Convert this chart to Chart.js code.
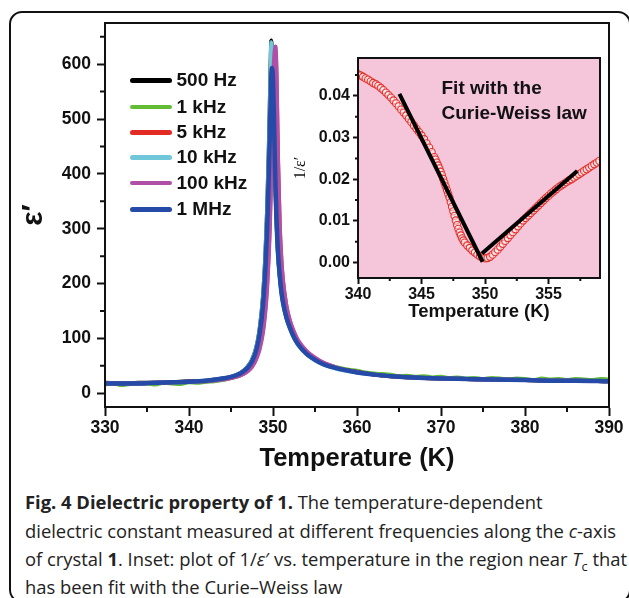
<!DOCTYPE html>
<html><head><meta charset="utf-8">
<script src="https://cdn.jsdelivr.net/npm/chart.js@4.4.1/dist/chart.umd.min.js"></script>
<style>
html,body{margin:0;padding:0;background:#fff;}
body{width:629px;height:598px;position:relative;overflow:hidden;font-family:'Liberation Sans',Arial,sans-serif;color:#111;}
#frame{position:absolute;left:9px;top:11px;width:622px;height:592px;border:2.5px solid #111;border-radius:13px;box-sizing:border-box;}
#main{position:absolute;left:0;top:0;}
#inset{position:absolute;left:290px;top:40px;}
.leg{position:absolute;left:130px;height:24px;width:140px;}
.leg .ln{position:absolute;left:0;top:10px;width:42px;height:4.5px;border-radius:3px;}
.leg .tx{position:absolute;left:46.5px;top:0;line-height:24px;font-size:19px;font-weight:bold;white-space:nowrap;}
.note{position:absolute;left:441.5px;line-height:24px;font-size:19px;font-weight:bold;white-space:nowrap;}
.cap{position:absolute;left:25px;line-height:28px;white-space:nowrap;font-family:'Open Sans',sans-serif;color:#222;}
</style></head>
<body>
<div id="frame"></div>
<canvas id="main" width="629" height="480"></canvas>
<canvas id="inset" width="320" height="290"></canvas>
<div id="legend"></div>
<div class="note" style="top:76.3px">Fit with the</div>
<div class="note" style="top:100.7px">Curie-Weiss law</div>
<div class="cap" style="top:488px"><b>Fig. 4 Dielectric property of 1.</b> The temperature-dependent</div>
<div class="cap" style="top:516.5px">dielectric constant measured at different frequencies along the <i>c</i>-axis</div>
<div class="cap" style="top:545px">of crystal <b>1</b>. Inset: plot of 1/<i>ε</i>′ vs. temperature in the region near <i>T</i><sub style="font-size:0.7em;line-height:0">c</sub> that</div>
<div class="cap" style="top:573px">has been fit with the Curie–Weiss law</div>
<script>
// ---------------- main chart data ----------------
const temperature = [330,332,334,336,338,340,342,344,345,346,346.5,347,347.5,348,348.4,348.8,349.1,349.3,349.5,349.6,349.7,349.8,349.9,350.0,350.1,350.2,350.3,350.4,350.5,350.6,350.8,351.0,351.2,351.6,352,352.5,353,354,355,356,357,358,360,362,365,368,370,373,376,380,383,386,390];
const eps500Hz = [19,18,19,19,20,22,23,27,30,36,41,49,61,83,116,175,255,335,445,512,588,643,612,562,497,432,370,322,284,254,215,186,166,138,120,102,89,72,61,53,48,44,39,34,30,28,27,26,25,24,23,23,22];
const eps5kHz = [18,18,18,19,20,21,22,25,28,32,36,41,49,64,83,115,158,200,262,305,360,425,500,565,610,625,622,585,505,420,305,242,203,158,132,111,95,76,64,55,49,45,39,34,30,28,27,26,25,24,23,23,22];
const eps10kHz = [18,18,18,19,20,21,23,27,30,36,41,49,61,83,116,175,255,335,445,510,585,640,610,560,495,430,368,320,282,252,213,184,164,137,119,101,88,71,60,52,47,43,38,34,30,28,27,26,25,24,23,23,22];
const eps100kHz = [18,18,18,19,20,21,22,25,28,32,35,40,48,62,80,110,150,190,250,290,340,400,470,540,600,625,632,600,520,430,310,245,205,160,133,112,96,77,65,56,50,45,39,34,30,28,27,26,25,24,23,23,22];
const eps1MHz = [18,18,18,19,20,21,23,27,30,35,40,47,58,78,108,160,230,300,400,460,525,580,593,570,510,440,375,325,285,255,215,185,165,138,120,102,89,72,61,53,48,44,38,34,30,28,27,26,25,24,23,23,22];
const temperature1kHz = [330,331,332,333,334,335,336,337,338,339,340,341,342,343,344,345,346,346.5,347,347.5,348,348.4,348.8,349.1,349.3,349.5,349.6,349.7,349.8,349.9,350.0,350.1,350.2,350.3,350.4,350.5,350.6,350.8,351.0,351.2,351.6,352,352.5,353,354,355,356,357,358,359,360,361,362,363,364,365,366,367,368,369,370,371,372,373,374,375,376,377,378,379,380,381,382,383,384,385,386,387,388,389,390];
const eps1kHz = [16,18,15,17,17,18,16,19,18,17,20,19,21,22,24,28,32,36,44,56,76,106,158,230,305,410,480,560,630,615,570,505,440,378,328,288,258,218,188,168,140,122,104,91,74,63,55,50,46,43,41,38,36,35,34,31,32,30,31,29,30,28,29,27,28,26,28,27,25,27,26,24,27,25,26,24,26,25,24,26,25];
const seriesLabels = ['500 Hz','1 kHz','5 kHz','10 kHz','100 kHz','1 MHz'];
const seriesColors = ['#000000','#62bd35','#e32b26','#6fc7d9','#b04fa6','#264aa8'];
const mainXTicks = [330,340,350,360,370,380,390];
const mainXMinor = [335,345,355,365,375,385];
const mainYTicks = [0,100,200,300,400,500,600];
const mainYMinor = [50,150,250,350,450,550,650];

// ---------------- inset data ----------------
const insetT = [340.0,340.2,340.4,340.6,340.8,341.0,341.2,341.4,341.6,341.8,342.0,342.2,342.4,342.6,342.8,343.0,343.2,343.4,343.6,343.8,344.0,344.2,344.4,344.6,344.8,345.0,345.2,345.4,345.6,345.8,346.0,346.1,346.2,346.3,346.4,346.5,346.6,346.7,346.8,346.9,347.0,347.1,347.2,347.3,347.4,347.5,347.6,347.7,347.8,347.9,348.0,348.1,348.2,348.3,348.4,348.6,348.8,349.0,349.2,349.4,349.6,349.8,350.0,350.2,350.4,350.6,350.8,351.0,351.2,351.4,351.6,351.8,352.0,352.2,352.4,352.6,352.8,353.0,353.2,353.4,353.6,353.8,354.0,354.2,354.4,354.6,354.8,355.0,355.2,355.4,355.6,355.8,356.0,356.2,356.4,356.6,356.8,357.0,357.2,357.4,357.6,357.8,358.0,358.2,358.4,358.6,358.8,359.0];
const insetInvEps = [0.0452,0.0449,0.0446,0.0442,0.0439,0.0435,0.0431,0.0428,0.0424,0.0419,0.0414,0.0408,0.0402,0.0396,0.0389,0.0382,0.0375,0.0367,0.0360,0.0353,0.0345,0.0337,0.0329,0.0321,0.0313,0.0305,0.0296,0.0286,0.0276,0.0265,0.0253,0.0247,0.0240,0.0233,0.0226,0.0218,0.0210,0.0201,0.0192,0.0183,0.0174,0.0165,0.0156,0.0145,0.0134,0.0123,0.0112,0.0101,0.0090,0.0081,0.0072,0.0065,0.0058,0.0053,0.0048,0.0041,0.0035,0.0029,0.0024,0.0019,0.0015,0.0012,0.0010,0.0011,0.0014,0.0019,0.0025,0.0031,0.0038,0.0045,0.0052,0.0059,0.0066,0.0073,0.0080,0.0087,0.0094,0.0101,0.0107,0.0113,0.0119,0.0125,0.0131,0.0137,0.0143,0.0149,0.0155,0.0160,0.0166,0.0171,0.0176,0.0181,0.0185,0.0189,0.0193,0.0197,0.0200,0.0204,0.0208,0.0212,0.0216,0.0220,0.0224,0.0228,0.0232,0.0236,0.0240,0.0244];
const fitLowT = [343.26, 349.81];
const fitLowInv = [0.0405, 0.0002];
const fitHighT = [349.76, 357.26];
const fitHighInv = [0.0022, 0.0220];
const insetXTicks = [340,345,350,355];
const insetXMinor = [342.5,347.5,352.5,357.5];
const insetYTicks = [0,0.01,0.02,0.03,0.04];
const insetYMinor = [0.005,0.015,0.025,0.035,0.045];

// ---------------- helpers ----------------
const pts = (xs, ys) => xs.map((x, i) => ({x: x, y: ys[i]}));
function framePlugin(xMinor, yMinor, minorLen, bg) {
  return {
    id: 'frameTicks',
    beforeDraw(chart) {
      if (!bg) return;
      const a = chart.chartArea, c = chart.ctx;
      c.save(); c.fillStyle = bg; c.fillRect(a.left, a.top, a.right - a.left, a.bottom - a.top); c.restore();
    },
    afterDraw(chart) {
      const a = chart.chartArea, c = chart.ctx;
      const xs = chart.scales.x, ys = chart.scales.y;
      c.save();
      c.strokeStyle = '#111'; c.lineWidth = 2;
      c.strokeRect(a.left, a.top, a.right - a.left, a.bottom - a.top);
      c.beginPath();
      xMinor.forEach(v => { const p = xs.getPixelForValue(v); c.moveTo(p, a.bottom); c.lineTo(p, a.bottom + minorLen); });
      yMinor.forEach(v => { const p = ys.getPixelForValue(v); c.moveTo(a.left, p); c.lineTo(a.left - minorLen, p); });
      c.stroke();
      c.restore();
    }
  };
}
const tickFont = (s) => ({family: "'Liberation Sans', Arial, sans-serif", size: s, weight: 'bold'});

// ---------------- main chart ----------------
const mainSets = [
  {label: seriesLabels[0], data: pts(temperature, eps500Hz), color: seriesColors[0], w: 4, order: 4},
  {label: seriesLabels[1], data: pts(temperature1kHz, eps1kHz), color: seriesColors[1], w: 4, order: 5},
  {label: seriesLabels[2], data: pts(temperature, eps5kHz), color: seriesColors[2], w: 4, order: 6},
  {label: seriesLabels[3], data: pts(temperature, eps10kHz), color: seriesColors[3], w: 4, order: 3},
  {label: seriesLabels[4], data: pts(temperature, eps100kHz), color: seriesColors[4], w: 4, order: 2},
  {label: seriesLabels[5], data: pts(temperature, eps1MHz), color: seriesColors[5], w: 4.5, order: 1}
];
new Chart(document.getElementById('main'), {
  type: 'line',
  data: {datasets: mainSets.map(s => ({
    label: s.label, data: s.data, borderColor: s.color, backgroundColor: s.color,
    borderWidth: s.w, pointRadius: 0, fill: false, order: s.order,
    cubicInterpolationMode: 'monotone', borderJoinStyle: 'round', borderCapStyle: 'round'
  }))},
  options: {
    responsive: false, animation: false, devicePixelRatio: 1,
    layout: {padding: {left: 14, top: 23, right: 20, bottom: 0}},
    plugins: {legend: {display: false}, tooltip: {enabled: false}},
    scales: {
      x: {
        type: 'linear', min: 330, max: 390,
        afterBuildTicks: s => { s.ticks = mainXTicks.map(v => ({value: v})); },
        afterFit: s => { s.height = 73; },
        grid: {display: true, drawOnChartArea: false, drawTicks: true, tickLength: 9, tickWidth: 2, tickColor: '#111'},
        border: {display: true, color: '#111', width: 2},
        ticks: {color: '#111', font: tickFont(17.5), padding: 2, maxRotation: 0, autoSkip: false, callback: v => String(v)},
        title: {display: true, text: 'Temperature (K)', color: '#111', padding: 0,
          font: {family: "'Liberation Sans', Arial, sans-serif", size: 25.5, weight: 'bold', lineHeight: '42px'}}
      },
      y: {
        type: 'linear', min: -25, max: 675,
        afterBuildTicks: s => { s.ticks = mainYTicks.map(v => ({value: v})); },
        afterFit: s => { s.width = 91; },
        grid: {display: true, drawOnChartArea: false, drawTicks: true, tickLength: 8, tickWidth: 2, tickColor: '#111'},
        border: {display: true, color: '#111', width: 2},
        ticks: {color: '#111', font: tickFont(17.5), padding: 6, autoSkip: false, callback: v => String(v)},
        title: {display: true, text: 'ε′', color: '#111', padding: 0,
          font: {family: "'Liberation Sans', Arial, sans-serif", size: 30, weight: 'bold', lineHeight: '40px'}}
      }
    }
  },
  plugins: [framePlugin(mainXMinor, mainYMinor, 5, null)]
});

// ---------------- inset chart ----------------
new Chart(document.getElementById('inset'), {
  type: 'line',
  data: {datasets: [
    {label: 'fit low', data: pts(fitLowT, fitLowInv), borderColor: '#000', borderWidth: 4, pointRadius: 0, showLine: true, borderCapStyle: 'butt', order: 1},
    {label: 'fit high', data: pts(fitHighT, fitHighInv), borderColor: '#000', borderWidth: 4, pointRadius: 0, showLine: true, borderCapStyle: 'butt', order: 1},
    {label: '1/eps', data: pts(insetT, insetInvEps), showLine: false, pointStyle: 'circle', pointRadius: 3.6,
      pointBorderWidth: 1.1, pointBorderColor: '#e2302a', pointBackgroundColor: 'rgba(255,240,245,0.55)', order: 2}
  ]},
  options: {
    responsive: false, animation: false, devicePixelRatio: 1,
    layout: {padding: {left: 0, top: 18, right: 10, bottom: 0}},
    plugins: {legend: {display: false}, tooltip: {enabled: false}},
    scales: {
      x: {
        type: 'linear', min: 340, max: 359.05,
        afterBuildTicks: s => { s.ticks = insetXTicks.map(v => ({value: v})); },
        afterFit: s => { s.height = 52; },
        grid: {display: true, drawOnChartArea: false, drawTicks: true, tickLength: 6, tickWidth: 2, tickColor: '#111'},
        border: {display: true, color: '#111', width: 2},
        ticks: {color: '#111', font: tickFont(16), padding: 1, maxRotation: 0, autoSkip: false, callback: v => String(v)},
        title: {display: true, text: 'Temperature (K)', color: '#111', padding: 0,
          font: {family: "'Liberation Sans', Arial, sans-serif", size: 18.5, weight: 'bold', lineHeight: '36.6px'}}
      },
      y: {
        type: 'linear', min: -0.0037, max: 0.0491,
        afterBuildTicks: s => { s.ticks = insetYTicks.map(v => ({value: v})); },
        afterFit: s => { s.width = 68; },
        grid: {display: true, drawOnChartArea: false, drawTicks: true, tickLength: 5, tickWidth: 2, tickColor: '#111'},
        border: {display: true, color: '#111', width: 2},
        ticks: {color: '#111', font: tickFont(16), padding: 3, autoSkip: false, callback: v => Number(v).toFixed(2)},
        title: {display: true, text: '1/ε′', color: '#111', padding: 0,
          font: {family: "'Liberation Serif', 'Times New Roman', serif", size: 16, weight: 'normal', lineHeight: '22px'}}
      }
    }
  },
  plugins: [framePlugin(insetXMinor, insetYMinor, 3, '#f5c6da')]
});

// ---------------- legend (HTML) ----------------
const legendCenters = [80.3, 106.7, 132, 157.3, 182.7, 209];
const legendBox = document.getElementById('legend');
seriesLabels.forEach((lab, i) => {
  const d = document.createElement('div');
  d.className = 'leg';
  d.style.top = (legendCenters[i] - 12) + 'px';
  d.innerHTML = '<span class="ln" style="background:' + seriesColors[i] + '"></span><span class="tx">' + lab + '</span>';
  legendBox.appendChild(d);
});

// ---------------- caption sizing ----------------
(function () {
  const m = document.createElement('canvas').getContext('2d');
  m.font = "20px 'Open Sans'";
  const w = m.measureText('dielectric constant measured at different frequencies along the c-axis').width;
  const size = 20 * 592 / w;
  document.querySelectorAll('.cap').forEach(el => { el.style.fontSize = size + 'px'; });
})();
</script>
</body></html>
